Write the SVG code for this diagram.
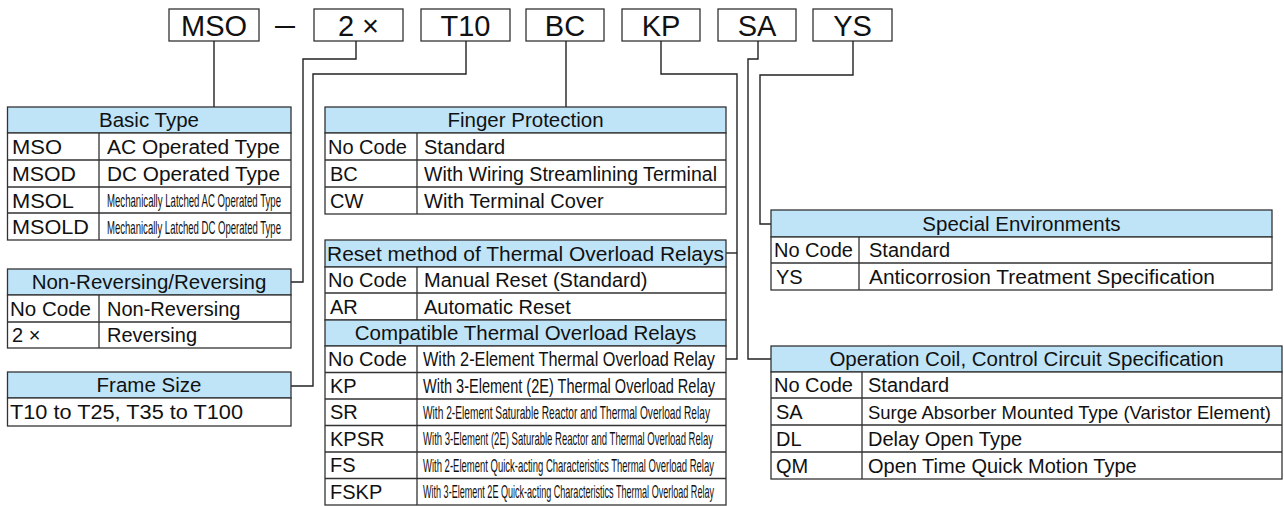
<svg xmlns="http://www.w3.org/2000/svg" width="1284" height="506" viewBox="0 0 1284 506">
<style>
text{font-family:"Liberation Sans",Arial,sans-serif;fill:#111;}
.code{font-size:29px;text-anchor:middle;}
.t{font-size:20px;}
.h{font-size:20.5px;text-anchor:middle;}
.s{font-size:18.5px;}
.box{fill:#fff;stroke:#333;stroke-width:1.3;}
.hd{fill:#bfe4f8;stroke:#333;stroke-width:1.3;}
.cell{fill:#fff;stroke:#333;stroke-width:1.3;}
.ln{fill:none;stroke:#333;stroke-width:1.3;}
.conn{fill:none;stroke:#222;stroke-width:1.4;}
</style>
<rect width="1284" height="506" fill="#fff"/>

<g id="code-boxes">
<g id="code-MSO"><rect class="box" x="169" y="9" width="90" height="32"/><text class="code" x="214" y="35.5">MSO</text></g>
<text class="code" x="285" y="35" textLength="20" lengthAdjust="spacingAndGlyphs">—</text>
<g id="code-2x"><rect class="box" x="314" y="9" width="89" height="32"/><text class="code" x="358.5" y="35.5">2 ×</text></g>
<g id="code-T10"><rect class="box" x="421" y="9" width="89" height="32"/><text class="code" x="465.5" y="35.5">T10</text></g>
<g id="code-BC"><rect class="box" x="526" y="9" width="78" height="32"/><text class="code" x="565" y="35.5">BC</text></g>
<g id="code-KP"><rect class="box" x="622" y="9" width="78" height="32"/><text class="code" x="661" y="35.5">KP</text></g>
<g id="code-SA"><rect class="box" x="718" y="9" width="78" height="32"/><text class="code" x="757" y="35.5">SA</text></g>
<g id="code-YS"><rect class="box" x="813" y="9" width="79" height="32"/><text class="code" x="852.5" y="35.5">YS</text></g>
</g>

<g id="connectors">
<polyline class="conn" points="214,41 214,107"/>
<polyline class="conn" points="356,41 356,59 303,59 303,282 291,282"/>
<polyline class="conn" points="466,41 466,74 313,74 313,386 291,386"/>
<polyline class="conn" points="566,41 566,107"/>
<polyline class="conn" points="661,41 661,74 737,74 737,359 726,359"/>
<polyline class="conn" points="737,253 726,253"/>
<polyline class="conn" points="758,41 758,59 748,59 748,359 771,359"/>
<polyline class="conn" points="853,41 853,75 760,75 760,224 771,224"/>
</g>

<g id="basic-type">
<rect class="hd" x="7.5" y="107" width="283.5" height="26"/>
<text class="h" x="149" y="127">Basic Type</text>
<rect class="cell" x="7.5" y="133" width="283.5" height="107"/>
<path class="ln" d="M7.5 160H291M7.5 187H291M7.5 213H291M99 133V240"/>
<text class="t" x="12" y="154" textLength="50" lengthAdjust="spacingAndGlyphs">MSO</text><text class="t" x="107" y="154" textLength="173" lengthAdjust="spacingAndGlyphs">AC Operated Type</text>
<text class="t" x="12" y="181" textLength="64" lengthAdjust="spacingAndGlyphs">MSOD</text><text class="t" x="107" y="181" textLength="173" lengthAdjust="spacingAndGlyphs">DC Operated Type</text>
<text class="t" x="12" y="207.5" textLength="62" lengthAdjust="spacingAndGlyphs">MSOL</text><text class="s" x="107" y="207" textLength="174" lengthAdjust="spacingAndGlyphs">Mechanically Latched AC Operated Type</text>
<text class="t" x="12" y="234" textLength="77" lengthAdjust="spacingAndGlyphs">MSOLD</text><text class="s" x="107" y="233.5" textLength="174" lengthAdjust="spacingAndGlyphs">Mechanically Latched DC Operated Type</text>
</g>

<g id="non-reversing">
<rect class="hd" x="7.5" y="269" width="283.5" height="26"/>
<text class="h" x="149" y="289">Non-Reversing/Reversing</text>
<rect class="cell" x="7.5" y="295" width="283.5" height="53"/>
<path class="ln" d="M7.5 322H291M99 295V348"/>
<text class="t" x="10" y="316" textLength="81" lengthAdjust="spacingAndGlyphs">No Code</text><text class="t" x="107" y="316">Non-Reversing</text>
<text class="t" x="12" y="342">2 ×</text><text class="t" x="107" y="342">Reversing</text>
</g>

<g id="frame-size">
<rect class="hd" x="7.5" y="372" width="283.5" height="26"/>
<text class="h" x="149" y="392">Frame Size</text>
<rect class="cell" x="7.5" y="398" width="283.5" height="28"/>
<text class="t" x="10" y="419" textLength="233" lengthAdjust="spacingAndGlyphs">T10 to T25, T35 to T100</text>
</g>

<g id="finger-protection">
<rect class="hd" x="325" y="107" width="401" height="26"/>
<text class="h" x="525.5" y="127">Finger Protection</text>
<rect class="cell" x="325" y="133" width="401" height="81"/>
<path class="ln" d="M325 160H726M325 187H726M417 133V214"/>
<text class="t" x="328" y="154">No Code</text><text class="t" x="424" y="154">Standard</text>
<text class="t" x="330" y="181">BC</text><text class="t" x="424" y="181" textLength="293" lengthAdjust="spacingAndGlyphs">With Wiring Streamlining Terminal</text>
<text class="t" x="330" y="207.5">CW</text><text class="t" x="424" y="207.5">With Terminal Cover</text>
</g>

<g id="reset-method">
<rect class="hd" x="325" y="240" width="401" height="27"/>
<text class="h" x="525.5" y="260.5" textLength="397" lengthAdjust="spacingAndGlyphs">Reset method of Thermal Overload Relays</text>
<rect class="cell" x="325" y="267" width="401" height="53"/>
<path class="ln" d="M325 293H726M417 267V320"/>
<text class="t" x="328" y="287">No Code</text><text class="t" x="424" y="287">Manual Reset (Standard)</text>
<text class="t" x="330" y="313.5">AR</text><text class="t" x="424" y="313.5">Automatic Reset</text>
</g>

<g id="compatible-relays">
<rect class="hd" x="325" y="320" width="401" height="26"/>
<text class="h" x="525.5" y="340">Compatible Thermal Overload Relays</text>
<rect class="cell" x="325" y="346" width="401" height="159"/>
<path class="ln" d="M325 372.5H726M325 399H726M325 425.5H726M325 452H726M325 478.5H726M417 346V505"/>
<text class="t" x="328" y="366">No Code</text><text class="t" x="423" y="366" textLength="292" lengthAdjust="spacingAndGlyphs">With 2-Element Thermal Overload Relay</text>
<text class="t" x="330" y="392.5">KP</text><text class="t" x="423" y="392.5" textLength="292" lengthAdjust="spacingAndGlyphs">With 3-Element (2E) Thermal Overload Relay</text>
<text class="t" x="330" y="419">SR</text><text class="s" x="423" y="418.5" textLength="287" lengthAdjust="spacingAndGlyphs">With 2-Element Saturable Reactor and Thermal Overload Relay</text>
<text class="t" x="330" y="445.5">KPSR</text><text class="s" x="423" y="445" textLength="290" lengthAdjust="spacingAndGlyphs">With 3-Element (2E) Saturable Reactor and Thermal Overload Relay</text>
<text class="t" x="330" y="472">FS</text><text class="s" x="423" y="471.5" textLength="291" lengthAdjust="spacingAndGlyphs">With 2-Element Quick-acting Characteristics Thermal Overload Relay</text>
<text class="t" x="330" y="498.5">FSKP</text><text class="s" x="423" y="498" textLength="291" lengthAdjust="spacingAndGlyphs">With 3-Element 2E Quick-acting Characteristics Thermal Overload Relay</text>
</g>

<g id="special-environments">
<rect class="hd" x="771" y="210" width="501" height="27"/>
<text class="h" x="1021.5" y="230.5">Special Environments</text>
<rect class="cell" x="771" y="237" width="501" height="53"/>
<path class="ln" d="M771 263H1272M859 237V290"/>
<text class="t" x="774" y="257">No Code</text><text class="t" x="869" y="257">Standard</text>
<text class="t" x="776" y="284">YS</text><text class="t" x="869" y="284" textLength="346" lengthAdjust="spacingAndGlyphs">Anticorrosion Treatment Specification</text>
</g>

<g id="operation-coil">
<rect class="hd" x="771" y="346" width="511" height="26"/>
<text class="h" x="1026.5" y="366">Operation Coil, Control Circuit Specification</text>
<rect class="cell" x="771" y="372" width="511" height="107"/>
<path class="ln" d="M771 398H1282M771 425H1282M771 452H1282M862 372V479"/>
<text class="t" x="774" y="392">No Code</text><text class="t" x="868" y="392">Standard</text>
<text class="t" x="776" y="418.5">SA</text><text class="s" x="868" y="418.5" textLength="403" lengthAdjust="spacingAndGlyphs">Surge Absorber Mounted Type (Varistor Element)</text>
<text class="t" x="776" y="445.5">DL</text><text class="t" x="868" y="445.5">Delay Open Type</text>
<text class="t" x="776" y="472.5">QM</text><text class="t" x="868" y="472.5">Open Time Quick Motion Type</text>
</g>
</svg>
